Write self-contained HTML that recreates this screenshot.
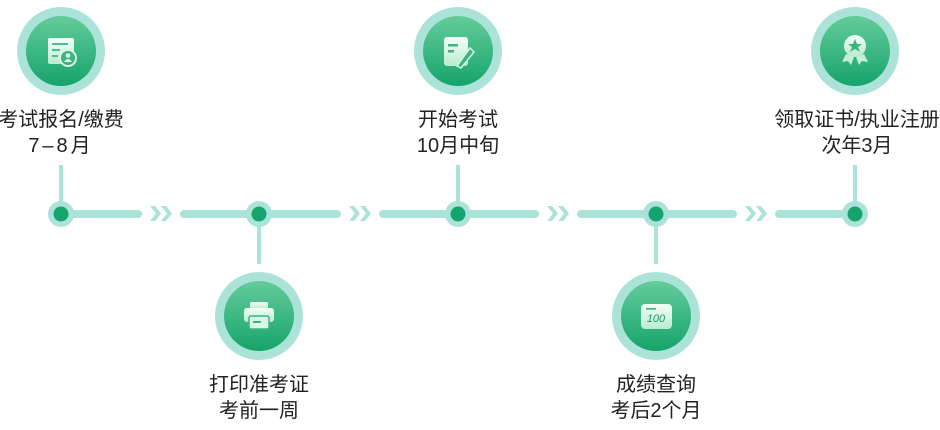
<!DOCTYPE html>
<html><head><meta charset="utf-8"><style>
html,body{margin:0;padding:0;background:#fff;}
body{width:940px;height:430px;position:relative;overflow:hidden;font-family:"Liberation Sans","Noto Sans CJK SC",sans-serif;color:#222;}
svg{position:absolute;left:0;top:0;}
.t{position:absolute;width:220px;margin-left:-110px;text-align:center;font-size:20px;line-height:26px;white-space:nowrap;}
</style></head><body>
<svg width="940" height="430" viewBox="0 0 940 430">
<defs>
<linearGradient id="g" x1="0" y1="0" x2="0" y2="1"><stop offset="0" stop-color="#64cc9b"/><stop offset="1" stop-color="#16a46b"/></linearGradient>
<linearGradient id="w" x1="0" y1="0" x2="0" y2="1"><stop offset="0" stop-color="#f4fff8"/><stop offset="1" stop-color="#b8ebcf"/></linearGradient>
<g id="ch" fill="#ace3d9"><polygon points="0,0 5,0 11,7.5 5,15 0,15 6,7.5"/><polygon points="11,0 16,0 22,7.5 16,15 11,15 17,7.5"/></g>
</defs>
<g stroke="#ace3d9" stroke-width="8" stroke-linecap="round">
<line x1="61" y1="214" x2="138" y2="214"/>
<line x1="184" y1="214" x2="337" y2="214"/>
<line x1="383" y1="214" x2="535" y2="214"/>
<line x1="581" y1="214" x2="733" y2="214"/>
<line x1="779" y1="214" x2="855" y2="214"/>
</g>
<g stroke="#ace3d9" stroke-width="4">
<line x1="61" y1="165" x2="61" y2="214"/>
<line x1="458" y1="165" x2="458" y2="214"/>
<line x1="855" y1="165" x2="855" y2="214"/>
<line x1="259" y1="214" x2="259" y2="264"/>
<line x1="656" y1="214" x2="656" y2="264"/>
</g>
<use href="#ch" x="150" y="206"/><use href="#ch" x="349" y="206"/><use href="#ch" x="547" y="206"/><use href="#ch" x="745" y="206"/>
<g fill="#ace3d9"><circle cx="61" cy="214" r="13"/><circle cx="259" cy="214" r="13"/><circle cx="458" cy="214" r="13"/><circle cx="656" cy="214" r="13"/><circle cx="855" cy="214" r="13"/></g>
<g fill="#15a46d"><circle cx="61" cy="214" r="7.5"/><circle cx="259" cy="214" r="7.5"/><circle cx="458" cy="214" r="7.5"/><circle cx="656" cy="214" r="7.5"/><circle cx="855" cy="214" r="7.5"/></g>
<g fill="#ace3d9"><circle cx="61" cy="51" r="44"/><circle cx="458" cy="51" r="44"/><circle cx="855" cy="51" r="44"/><circle cx="259" cy="316" r="44"/><circle cx="656" cy="316" r="44"/></g>
<g fill="url(#g)"><circle cx="61" cy="51" r="35"/><circle cx="458" cy="51" r="35"/><circle cx="855" cy="51" r="35"/><circle cx="259" cy="316" r="35"/><circle cx="656" cy="316" r="35"/></g>
<rect x="48" y="38" width="26" height="26" rx="2" fill="url(#w)"/>
<rect x="52" y="43" width="16" height="2" fill="#4cbf8a"/><rect x="52" y="49" width="8" height="2" fill="#4cbf8a"/><rect x="52" y="55" width="6" height="2" fill="#4cbf8a"/>
<circle cx="68" cy="58" r="8" fill="#3ab57e" stroke="#d6f5e4" stroke-width="2"/><circle cx="68" cy="55.5" r="2.3" fill="#e8fbf0"/><path d="M64 62 q4-6 8 0z" fill="#e8fbf0"/>
<rect x="444" y="37" width="24" height="29" rx="3" fill="url(#w)"/>
<rect x="448" y="44" width="10" height="2.5" fill="#3ab57e"/><rect x="448" y="50" width="6" height="2.5" fill="#3ab57e"/>
<path d="M457 66 L470 48 L474 52 L461 68z" fill="#3ab57e" stroke="#d6f5e4" stroke-width="1.5"/>
<circle cx="855" cy="46" r="11" fill="url(#w)"/><polygon points="855,39 857,44 862,44 858,47 860,52 855,49 850,52 852,47 848,44 853,44" fill="#3ab57e"/>
<path d="M846 54 l-4 8 6 -1 3 4 3-8z M864 54 l4 8 -6 -1 -3 4 -3-8z" fill="#c6efda"/>
<rect x="250" y="302" width="18" height="7" rx="1.5" fill="url(#w)"/>
<rect x="244" y="308" width="30" height="14" rx="3" fill="url(#w)"/>
<rect x="249" y="316" width="20" height="13" rx="2" fill="#d8f6e6" stroke="#3ab57e" stroke-width="1.5"/>
<rect x="253" y="321" width="8" height="2" fill="#3ab57e"/>
<rect x="641" y="304" width="31" height="25" rx="4" fill="url(#w)"/>
<rect x="646" y="308" width="10" height="1.6" fill="#3ab57e"/>
<text x="656" y="322" font-size="11" font-style="italic" fill="#1e9a63" text-anchor="middle" font-family="Liberation Sans">100</text>
</svg>
<div class="t" style="left:61px;top:107px">考试报名/缴费<br><span style="letter-spacing:3px">7–8月</span></div>
<div class="t" style="left:458px;top:107px">开始考试<br>10月中旬</div>
<div class="t" style="left:857px;top:107px">领取证书/执业注册<br>次年3月</div>
<div class="t" style="left:259px;top:372px">打印准考证<br>考前一周</div>
<div class="t" style="left:656px;top:372px">成绩查询<br>考后2个月</div>
</body></html>
